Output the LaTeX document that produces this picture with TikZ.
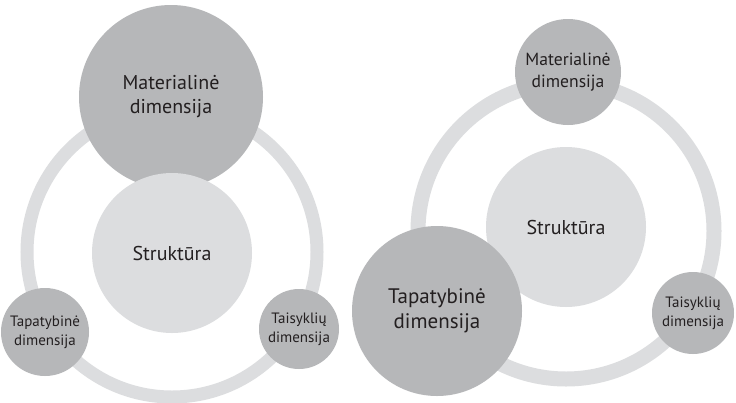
\documentclass[tikz,border=0pt]{standalone}
\usepackage{fontspec}
\setmainfont{PT Sans}
\definecolor{darkdisc}{HTML}{B6B7B9}
\definecolor{lightdisc}{HTML}{DCDDDF}
\definecolor{inktext}{HTML}{231F20}
\begin{document}
\begin{tikzpicture}
    [%%%%%%%%%%%%%%%%%%%%%%%%%%%%%%
        x=1pt, y=-1pt,
        disc/.style={circle, inner sep=0pt, align=center, text=inktext},
        dark/.style={disc, fill=darkdisc},
        light/.style={disc, fill=lightdisc},
        ring/.style={draw=lightdisc, line width=14pt},
        bigtext/.style={font=\fontsize{20}{24}\selectfont},
        smalltext/.style={font=\fontsize{15}{19}\selectfont},
    ]%%%%%%%%%%%%%%%%%%%%%%%%%%%%%%
\useasboundingbox (0,0) rectangle (736,402);
\fill[white] (0,0) rectangle (736,402);
% left diagram
\draw[ring, line width=13pt] (172,252) circle[radius=145pt];
\node[dark, bigtext, minimum size=184pt] (mat1) at (171,97) {Materialinė\\dimensija};
\node[light, bigtext, minimum size=160pt] (str1) at (172,253) {Struktūra};
\node[dark, smalltext, minimum size=88pt] (tap1) at (45,332) {Tapatybinė\\dimensija};
\node[dark, smalltext, minimum size=80pt] (tai1) at (299,329) {Taisyklių\\dimensija};
% right diagram
\draw[ring, line width=15pt] (566,231) circle[radius=148pt];
\node[dark, font=\fontsize{17.6}{22}\selectfont, minimum size=106pt] (mat2) at (568,72) {Materialinė\\dimensija};
\node[light, bigtext, minimum size=160pt] (str2) at (566,227) {Struktūra};
\node[dark, font=\fontsize{21}{25}\selectfont, minimum size=170pt] (tap2) at (437,311) {Tapatybinė\\dimensija};
\node[dark, smalltext, minimum size=82pt] (tai2) at (693,313) {Taisyklių\\dimensija};
\end{tikzpicture}
\end{document}
